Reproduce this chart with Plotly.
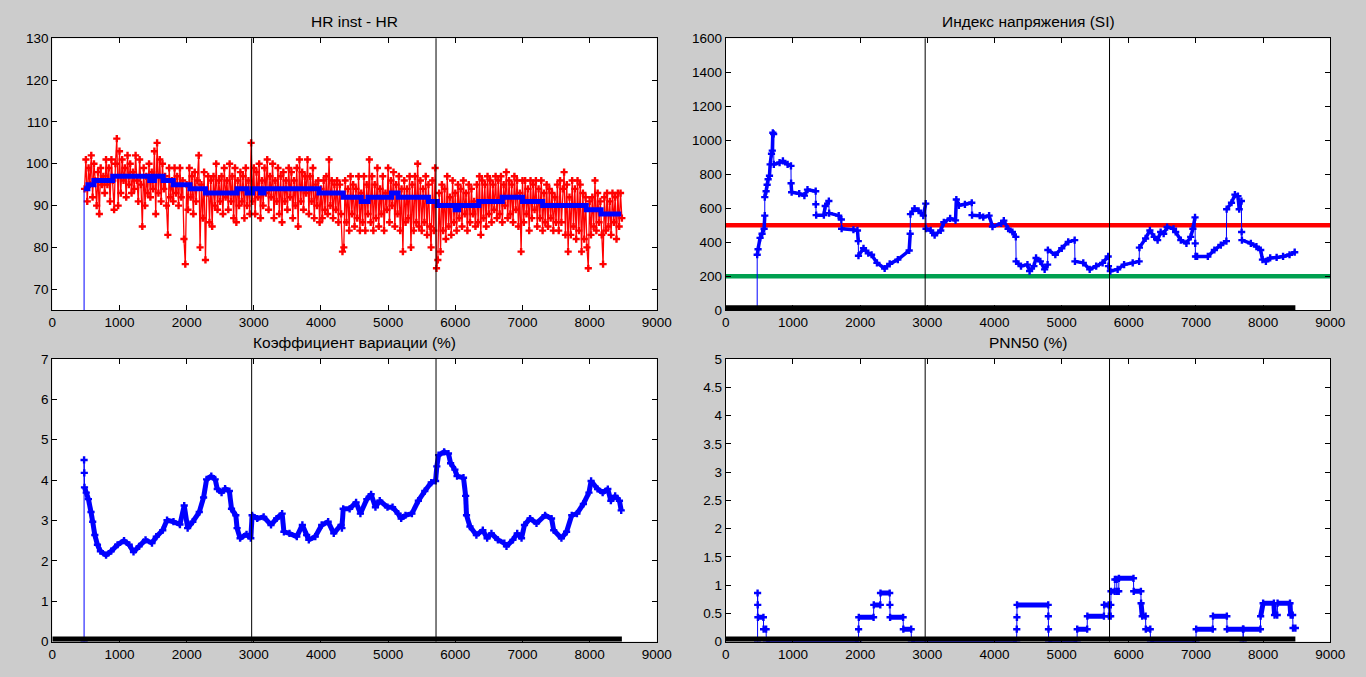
import numpy as np
import plotly.graph_objects as go

# ---------------- data ----------------
hr_start = 480
hr_step = 20
hr_inst = [
    94, 101, 91, 99, 95, 102, 92, 100, 96, 90, 98, 88, 99, 95, 97, 93, 101, 95, 99, 91, 101, 96, 89, 100, 106, 90, 103,
    93, 101, 96, 99, 92, 102, 95, 100, 93, 98, 94, 102, 96, 91, 101, 95, 85, 99, 90, 97, 93, 100, 92, 98, 94,
    103, 88, 105, 93, 101, 91, 100, 94, 97, 90, 83, 99, 92, 96, 91, 99, 93, 97, 90, 99, 92, 96, 82, 76, 95,
    89, 99, 92, 97, 88, 98, 91, 96, 102, 80, 95, 87, 98, 77, 93, 97, 86, 96, 85, 97, 90, 100, 89, 96, 91,
    97, 88, 99, 92, 96, 89, 100, 91, 97, 87, 99, 86, 96, 90, 98, 91, 97, 87, 99, 90, 96, 88, 105, 91, 99,
    88, 98, 92, 100, 87, 96, 90, 99, 93, 101, 89, 97, 92, 100, 87, 96, 91, 99, 88, 97, 86, 98, 91, 96, 89,
    99, 92, 98, 87, 96, 90, 99, 85, 101, 91, 98, 89, 97, 93, 101, 88, 97, 91, 99, 87, 95, 90, 96, 86, 94,
    87, 96, 89, 97, 88, 101, 90, 96, 87, 95, 89, 96, 86, 95, 88, 79, 80, 96, 86, 94, 84, 97, 88, 95, 85,
    94, 87, 97, 84, 93, 86, 97, 84, 95, 88, 101, 86, 97, 84, 95, 87, 99, 85, 94, 88, 97, 84, 93, 89, 99,
    86, 96, 90, 98, 85, 95, 88, 97, 84, 94, 79, 96, 86, 94, 87, 97, 80, 95, 84, 97, 86, 100, 85, 96, 84,
    94, 86, 97, 83, 95, 85, 80, 96, 84, 99, 75, 77, 93, 79, 95, 84, 94, 82, 97, 85, 92, 83, 96, 86, 93,
    84, 95, 87, 94, 85, 96, 88, 93, 84, 95, 86, 94, 88, 91, 85, 95, 86, 97, 83, 96, 87, 95, 85, 97, 88,
    96, 86, 95, 89, 97, 87, 96, 88, 97, 86, 95, 90, 98, 87, 96, 88, 95, 86, 97, 89, 96, 85, 93, 79, 96,
    86, 96, 88, 94, 84, 96, 87, 95, 89, 96, 85, 94, 87, 96, 84, 93, 86, 95, 85, 94, 87, 93, 84, 92, 86,
    95, 84, 96, 86, 94, 98, 83, 95, 79, 92, 83, 96, 85, 94, 82, 96, 84, 95, 79, 93, 82, 92, 80, 75, 91,
    83, 92, 85, 96, 84, 93, 86, 91, 83, 76, 92, 84, 93, 85, 91, 83, 93, 86, 92, 82, 93, 85, 93, 87,
]
hr_mean_x = [473, 530, 620, 900, 1450, 1520, 1650, 1800, 2050, 2280, 2750, 2900, 2980, 3100, 3150, 3970,
             4330, 4600, 4700, 5050, 5150, 5600, 5730, 6000, 6050, 6350, 6700, 7000, 7300, 7950, 8170, 8470]
hr_mean_v = [94, 95, 96, 97, 96, 97, 96, 95, 94, 93, 94, 93, 94, 93, 94, 93,
             92, 91, 92, 93, 92, 91, 90, 89, 90, 91, 92, 91, 90, 89, 88, 88]

si_x = [467, 467, 480, 510, 540, 570, 580, 580, 600, 615, 630, 650, 660, 680, 692, 700, 712, 715, 800, 850,
        920, 970, 972, 980, 1093, 1170, 1216, 1338, 1340, 1345, 1460, 1480, 1534, 1538, 1681, 1720, 1724, 1900,
        1960, 1972, 1975, 2050, 2121, 2170, 2250, 2365, 2440, 2561, 2730, 2745, 2749, 2810, 2870, 2940, 2977,
        2981, 3050, 3109, 3200, 3246, 3340, 3420, 3432, 3470, 3560, 3662, 3666, 3780, 3833, 3920, 3970, 4100,
        4139, 4203, 4267, 4318, 4322, 4395, 4491, 4523, 4587, 4619, 4683, 4747, 4791, 4795, 4906, 5002, 5098,
        5194, 5198, 5322, 5418, 5514, 5610, 5693, 5697, 5725, 5834, 5930, 6058, 6154, 6158, 6250, 6314, 6378,
        6429, 6474, 6519, 6570, 6666, 6698, 6774, 6858, 6922, 6954, 6986, 6989, 6993, 7017, 7177, 7274, 7370,
        7453, 7457, 7529, 7580, 7625, 7644, 7676, 7680, 7684, 7817, 7900, 7964, 7990, 8041, 8105, 8201, 8297,
        8393, 8470]
si_y = [0, 326, 358, 425, 450, 479, 556, 665, 700, 738, 770, 791, 858, 920, 939, 1044, 1037, 858, 868, 878,
        858, 849, 747, 694, 686, 674, 709, 700, 623, 559, 559, 613, 642, 571, 556, 533, 479, 473,
        469, 406, 320, 364, 335, 326, 278, 245, 272, 297, 351, 450, 565, 598, 585, 556, 627,
        479, 469, 441, 469, 517, 540, 528, 651, 617, 623, 632, 559, 556, 547, 556, 492, 510,
        527, 479, 460, 431, 287, 259, 268, 230, 259, 307, 287, 240, 268, 354, 326, 364, 402,
        412, 287, 278, 240, 259, 278, 316, 259, 230, 240, 268, 278, 287, 368, 422, 469, 431,
        412, 460, 450, 489, 479, 460, 412, 393, 431, 479, 546, 393, 316, 316, 316, 354, 383,
        406, 594, 632, 680, 671, 594, 642, 460, 412, 393, 374, 354, 297, 287, 307, 310, 316,
        326, 341]

cv_x = [473, 473, 476, 479, 505, 537, 576, 601, 633, 672, 716, 800, 876, 972, 1068, 1145, 1209, 1292, 1388, 1484,
        1548, 1644, 1708, 1804, 1900, 1964, 2015, 2092, 2188, 2252, 2297, 2367, 2425, 2456, 2520, 2572, 2636,
        2668, 2732, 2751, 2796, 2892, 2955, 2975, 3051, 3147, 3256, 3339, 3422, 3448, 3531, 3640, 3723, 3787,
        3819, 3915, 4011, 4107, 4190, 4299, 4312, 4331, 4427, 4523, 4587, 4683, 4747, 4811, 4875, 4990, 5066,
        5149, 5194, 5258, 5354, 5450, 5546, 5642, 5706, 5725, 5751, 5834, 5898, 5930, 5994, 6026, 6122, 6154,
        6167, 6218, 6314, 6410, 6474, 6538, 6634, 6730, 6762, 6858, 6922, 6986, 7030, 7113, 7209, 7337, 7433,
        7465, 7580, 7657, 7734, 7811, 7907, 7990, 8022, 8118, 8194, 8271, 8316, 8380, 8444, 8470]
cv_y = [0, 4.50, 4.18, 3.82, 3.69, 3.53, 3.21, 2.97, 2.64, 2.40, 2.24, 2.14, 2.24, 2.40, 2.50, 2.40, 2.22, 2.36,
        2.52, 2.44, 2.60, 2.76, 3.01, 2.97, 2.90, 3.37, 2.81, 2.97, 3.21, 3.57, 4.02, 4.10, 4.02, 3.78, 3.69,
        3.79, 3.73, 3.29, 3.13, 2.81, 2.56, 2.66, 2.56, 3.13, 3.05, 3.09, 2.89, 3.05, 3.17, 2.72, 2.68, 2.60,
        2.89, 2.64, 2.52, 2.60, 2.89, 2.97, 2.68, 2.89, 2.81, 3.29, 3.29, 3.45, 3.17, 3.53, 3.65, 3.33, 3.49,
        3.33, 3.33, 3.17, 3.05, 3.13, 3.17, 3.49, 3.73, 3.94, 3.98, 4.34, 4.62, 4.70, 4.66, 4.42, 4.26, 4.10,
        4.06, 3.61, 3.13, 2.85, 2.64, 2.76, 2.56, 2.68, 2.52, 2.44, 2.36, 2.52, 2.68, 2.56, 2.89, 3.05, 2.93,
        3.13, 3.05, 2.76, 2.56, 2.72, 3.13, 3.17, 3.41, 3.69, 3.98, 3.78, 3.69, 3.78, 3.49, 3.61, 3.49, 3.25]

pnn_x = [473, 473, 475, 478, 560, 563, 600, 603, 1975, 1977, 1980, 2200, 2203, 2300, 2303, 2440, 2443, 2446,
         2640, 2643, 2760, 2763, 4330, 4332, 4334, 4336, 4800, 4802, 4804, 4806, 5230, 5232, 5380, 5383, 5630,
         5633, 5700, 5703, 5730, 5732, 5735, 5790, 5793, 5820, 5823, 5850, 5853, 6070, 6073, 6180, 6183, 6200,
         6250, 6253, 6320, 6323, 7000, 7003, 7250, 7253, 7460, 7463, 7700, 7703, 7706, 7960, 7963, 8000, 8160,
         8170, 8210, 8215, 8400, 8410, 8440, 8445, 8480]
pnn_y = [0, 0.86, 0.65, 0.43, 0.43, 0.22, 0.22, 0, 0, 0.22, 0.43, 0.43, 0.65, 0.65, 0.86, 0.86, 0.65, 0.43,
         0.43, 0.22, 0.22, 0, 0, 0.22, 0.43, 0.65, 0.65, 0.45, 0.22, 0, 0, 0.22, 0.22, 0.45, 0.45,
         0.65, 0.65, 0.45, 0.45, 0.65, 0.89, 0.89, 1.10, 1.10, 0.89, 0.89, 1.12, 1.12, 0.89, 0.89, 0.68, 0.45,
         0.45, 0.22, 0.22, 0, 0, 0.22, 0.22, 0.45, 0.45, 0.22, 0.22, 0, 0.22, 0.22, 0.45, 0.68, 0.68,
         0.47, 0.47, 0.68, 0.68, 0.47, 0.47, 0.24, 0.24]

event_x = [2968, 5713]
si_thresholds = [500, 200]
si_threshold_colors = ["#ff0000", "#00a050"]
data_end = 8480

titles = ["HR inst - HR", "Индекс напряжения (SI)", "Коэффициент вариации (%)", "PNN50 (%)"]
x_ticks = list(range(0, 9001, 1000))
hr_ticks = [70, 80, 90, 100, 110, 120, 130]
si_ticks = list(range(0, 1601, 200))
cv_ticks = [0, 1, 2, 3, 4, 5, 6, 7]
pnn_ticks = [0, 0.5, 1, 1.5, 2, 2.5, 3, 3.5, 4, 4.5, 5]

# ---------------- layout geometry ----------------
W, H = 1366, 677
BLUE = "#0000ff"
RED = "#ff0000"
FONT = "Liberation Sans"

def px_dom_x(a, b):
    return [a / W, b / W]

def px_dom_y(top, bottom):
    return [1 - bottom / H, 1 - top / H]

fig = go.Figure()

axes = [
    dict(xa="x", ya="y", xd=px_dom_x(49, 662), yd=px_dom_y(32, 310), yr=[65, 130], yt=hr_ticks),
    dict(xa="x2", ya="y2", xd=px_dom_x(732, 1345), yd=px_dom_y(32, 310), yr=[0, 1600], yt=si_ticks),
    dict(xa="x3", ya="y3", xd=px_dom_x(49, 662), yd=px_dom_y(360, 649), yr=[0, 7], yt=cv_ticks),
    dict(xa="x4", ya="y4", xd=px_dom_x(732, 1345), yd=px_dom_y(360, 649), yr=[0, 5], yt=pnn_ticks),
]

def seg_traces(xs, ys, xa, ya, color, thick_w, thin_w=1, jump_dx=6, msize=6):
    xs = list(xs); ys = list(ys)
    tx, ty = [], []
    for i in range(len(xs) - 1):
        if xs[i + 1] - xs[i] > jump_dx:
            tx += [xs[i], xs[i + 1], None]
            ty += [ys[i], ys[i + 1], None]
    fig.add_trace(go.Scatter(x=xs, y=ys, xaxis=xa, yaxis=ya, mode="lines+markers",
                             line=dict(color=color, width=thin_w),
                             marker=dict(symbol="cross", size=msize, color=color),
                             showlegend=False, hoverinfo="skip"))
    fig.add_trace(go.Scatter(x=tx, y=ty, xaxis=xa, yaxis=ya, mode="lines",
                             line=dict(color=color, width=thick_w),
                             showlegend=False, hoverinfo="skip"))

# HR subplot
hr_x = hr_start + hr_step * np.arange(len(hr_inst))
fig.add_trace(go.Scatter(x=hr_x, y=hr_inst, xaxis="x", yaxis="y", mode="lines+markers",
                         line=dict(color=RED, width=1.3),
                         marker=dict(symbol="cross", size=6, color=RED),
                         showlegend=False, hoverinfo="skip"))
fig.add_trace(go.Scatter(x=[hr_mean_x[0], hr_mean_x[0]], y=[0, hr_mean_v[0]], xaxis="x", yaxis="y",
                         mode="lines", line=dict(color=BLUE, width=1), showlegend=False, hoverinfo="skip"))
fig.add_trace(go.Scatter(x=hr_mean_x, y=hr_mean_v, xaxis="x", yaxis="y", mode="lines",
                         line=dict(color=BLUE, width=5, shape="hv"), showlegend=False, hoverinfo="skip"))

# SI subplot
for thr, col in zip(si_thresholds, si_threshold_colors):
    fig.add_trace(go.Scatter(x=[0, 9000], y=[thr, thr], xaxis="x2", yaxis="y2", mode="lines",
                             line=dict(color=col, width=4.5), showlegend=False, hoverinfo="skip"))
seg_traces(si_x, si_y, "x2", "y2", BLUE, thick_w=3.5, jump_dx=5, msize=6)

# CV subplot
seg_traces(cv_x, cv_y, "x3", "y3", BLUE, thick_w=5, jump_dx=5, msize=6)

# PNN50 subplot
seg_traces(pnn_x, pnn_y, "x4", "y4", BLUE, thick_w=5, jump_dx=5, msize=6)

# zero baseline (thick black) on each subplot
for ax in axes[1:]:
    fig.add_trace(go.Scatter(x=[0, data_end], y=[0, 0], xaxis=ax["xa"], yaxis=ax["ya"], mode="lines",
                             line=dict(color="black", width=10), showlegend=False, hoverinfo="skip"))

# event markers (vertical black lines)
shapes = []
for ax in axes:
    for ex in event_x:
        shapes.append(dict(type="line", xref=ax["xa"], yref=ax["ya"] + " domain", x0=ex, x1=ex, y0=0, y1=1,
                           line=dict(color="black", width=1), layer="above"))

layout = dict(width=W, height=H, margin=dict(l=0, r=0, t=0, b=0), autosize=False,
              paper_bgcolor="#cccccc", plot_bgcolor="white", shapes=shapes,
              font=dict(family=FONT, size=13, color="black"))
for i, ax in enumerate(axes):
    sfx = "" if i == 0 else str(i + 1)
    common = dict(showgrid=False, zeroline=False, showline=True, linecolor="black", linewidth=1,
                  mirror="ticks", ticks="inside", ticklen=5, tickcolor="black",
                  tickfont=dict(family=FONT, size=13.5, color="black"))
    layout["xaxis" + sfx] = dict(domain=ax["xd"], anchor=ax["ya"], range=[0, 9000], tickvals=x_ticks,
                                 ticktext=[str(t) for t in x_ticks], **common)
    layout["yaxis" + sfx] = dict(domain=ax["yd"], anchor=ax["xa"], range=ax["yr"], tickvals=ax["yt"],
                                 ticktext=[("%g" % t) for t in ax["yt"]], **common)

anns = []
centers = [((49 + 662) / 2, 15), ((732 + 1345) / 2, 15), ((49 + 662) / 2, 343), ((732 + 1345) / 2, 343)]
for t, (cx, cy) in zip(titles, centers):
    anns.append(dict(text=t, x=cx / W, y=1 - cy / H, xref="paper", yref="paper", showarrow=False,
                     xanchor="center", yanchor="middle", font=dict(family=FONT, size=15.5, color="black")))
layout["annotations"] = anns
fig.update_layout(**layout)

fig.write_html("out.html", config={"displayModeBar": False},
               post_script="document.body.style.margin='0';document.body.style.overflow='hidden';")
